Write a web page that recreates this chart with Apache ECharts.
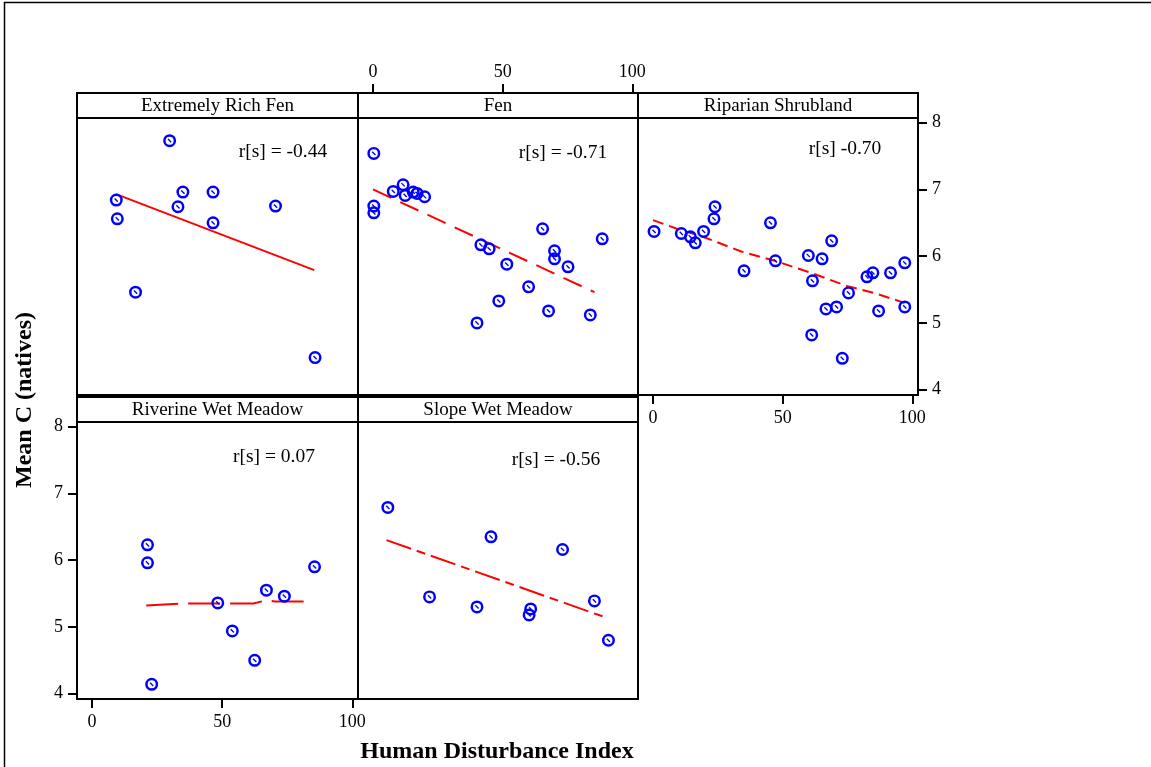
<!DOCTYPE html>
<html>
<head>
<meta charset="utf-8">
<script src="https://cdn.jsdelivr.net/npm/echarts@6/dist/echarts.min.js"></script>
<style>html,body{margin:0;padding:0;background:#fff;}#c{width:1151px;height:767px;}</style>
</head>
<body>
<div id="c"></div>
<script>
// ---- data ----
const xTicks = [0, 50, 100];
const yTicks = [4, 5, 6, 7, 8];
const panelNames = ['Extremely Rich Fen', 'Fen', 'Riparian Shrubland', 'Riverine Wet Meadow', 'Slope Wet Meadow'];
const corrLabels = ['r[s] = -0.44', 'r[s] = -0.71', 'r[s] -0.70', 'r[s] = 0.07', 'r[s] = -0.56'];
const xTitle = 'Human Disturbance Index';
const yTitle = 'Mean C (natives)';

const extremelyRichFenPts = [[29.8,7.73],[9.3,6.84],[9.7,6.56],[16.7,5.46],[33.0,6.74],[34.9,6.96],[46.5,6.96],[46.5,6.50],[70.5,6.75],[85.7,4.48]];
const extremelyRichFenFit = [[9.2,6.93],[85.4,5.79]];
const fenPts = [[0.3,7.54],[0.3,6.75],[0.3,6.65],[7.8,6.97],[11.6,7.07],[12.4,6.91],[15.5,6.96],[17.0,6.94],[19.9,6.89],[65.4,6.41],[88.4,6.26],[41.6,6.17],[44.8,6.11],[51.6,5.88],[70.0,6.08],[70.0,5.96],[75.2,5.84],[60.0,5.54],[48.5,5.33],[67.7,5.18],[83.8,5.12],[40.1,5.00]];
const fenFit = [[0,7.0],[85.4,5.46]];
const riparianPts = [[0.4,6.37],[10.9,6.34],[14.4,6.29],[16.3,6.20],[19.5,6.37],[23.5,6.56],[23.9,6.74],[45.3,6.50],[35.1,5.78],[47.2,5.93],[59.9,6.01],[65.2,5.96],[68.9,6.23],[61.5,5.63],[75.4,5.45],[82.5,5.69],[84.8,5.75],[91.6,5.75],[97.1,5.90],[66.7,5.21],[70.8,5.24],[87.0,5.18],[97.1,5.24],[61.2,4.82],[73.0,4.47]];
const riparianFit = [[0,6.54],[10,6.40],[20,6.28],[34,6.07],[47,5.93],[61,5.75],[75,5.55],[86,5.44],[97,5.30]];
const riverinePts = [[21.3,6.23],[21.3,5.96],[85.5,5.90],[67.0,5.55],[73.9,5.46],[48.3,5.36],[53.9,4.94],[62.5,4.50],[22.9,4.14]];
const riverineFit = [[20.8,5.32],[34.8,5.35],[48.3,5.35],[62.0,5.35],[67.0,5.40],[70.3,5.38],[84.5,5.38]];
const slopePts = [[5.7,6.79],[45.5,6.35],[73.1,6.16],[21.8,5.45],[40.1,5.30],[60.8,5.27],[60.2,5.18],[85.4,5.39],[90.8,4.80]];
const slopeFit = [[5.2,6.30],[90.6,5.13]];

// ---- layout / style ----
const FONT = '"Liberation Serif", "Times New Roman", serif';
const panels = [
  {pts: extremelyRichFenPts, fit: extremelyRichFenFit, dash: 'solid', left: 77, top: 118, width: 281, height: 277, cx: 283, cy: 152},
  {pts: fenPts, fit: fenFit, dash: [20, 10], left: 358, top: 118, width: 280, height: 277, cx: 563, cy: 153},
  {pts: riparianPts, fit: riparianFit, dash: [11, 6], left: 638, top: 118, width: 280, height: 277, cx: 845, cy: 149},
  {pts: riverinePts, fit: riverineFit, dash: [32, 10], left: 77, top: 422, width: 281, height: 277, cx: 274, cy: 457},
  {pts: slopePts, fit: slopeFit, dash: [26, 6, 9, 6], left: 358, top: 422, width: 280, height: 277, cx: 556, cy: 460}
];
const STRIP = 25;
const XMIN = -5.8, XMAX = 102.2, YMIN = 3.92, YMAX = 8.07;

const markerPath = 'path://M0,12 A12,12 0 1,1 24,12 A12,12 0 1,1 0,12 Z M4.6,12 A7.4,7.4 0 1,0 19.4,12 A7.4,7.4 0 1,0 4.6,12 Z M8.1,9.9 L14.1,15.9 L15.9,14.1 L9.9,8.1 Z';

const labelStyle = {fontFamily: FONT, fontSize: 18, color: '#000'};
function xAxisFor(i) {
  const base = {gridIndex: i, type: 'value', min: XMIN, max: XMAX, splitLine: {show: false}};
  const vis = {
    show: true,
    axisLine: {show: true, onZero: false, lineStyle: {color: '#000', width: 2}},
    axisTick: {show: true, inside: false, length: 9, lineStyle: {color: '#000', width: 2}, customValues: xTicks},
    axisLabel: Object.assign({show: true, margin: 14, customValues: xTicks}, labelStyle)
  };
  if (i === 1) return Object.assign(base, vis, {position: 'top', offset: STRIP, axisLabel: Object.assign({}, vis.axisLabel, {margin: 12})});
  if (i === 2 || i === 3) return Object.assign(base, vis, {position: 'bottom'});
  return Object.assign(base, {show: false});
}
function yAxisFor(i) {
  const base = {gridIndex: i, type: 'value', min: YMIN, max: YMAX, splitLine: {show: false}};
  const vis = {
    show: true,
    axisLine: {show: true, onZero: false, lineStyle: {color: '#000', width: 2}},
    axisTick: {show: true, inside: false, length: 9, lineStyle: {color: '#000', width: 2}, customValues: yTicks},
    axisLabel: Object.assign({show: true, margin: 14, customValues: yTicks}, labelStyle)
  };
  if (i === 2) return Object.assign(base, vis, {position: 'right'});
  if (i === 3) return Object.assign(base, vis, {position: 'left'});
  return Object.assign(base, {show: false});
}

const grids = panels.map(p => ({left: p.left, top: p.top, width: p.width, height: p.height, show: true, borderColor: '#000', borderWidth: 2, backgroundColor: 'transparent'}));
const series = [];
panels.forEach((p, i) => {
  series.push({
    type: 'line', xAxisIndex: i, yAxisIndex: i, data: p.fit, showSymbol: false, symbol: 'none',
    lineStyle: {color: '#ff0000', width: 2, type: p.dash}, silent: true, z: 2, animation: false
  });
  series.push({
    type: 'scatter', xAxisIndex: i, yAxisIndex: i, data: p.pts, symbol: markerPath, symbolSize: 13,
    itemStyle: {color: '#0000ff', opacity: 1}, z: 3, animation: false
  });
});

const graphics = [
  {type: 'rect', shape: {x: 4.5, y: 2.5, width: 1200, height: 800}, style: {fill: 'none', stroke: '#000', lineWidth: 1.5}, silent: true}
];
panels.forEach((p, i) => {
  graphics.push({type: 'rect', shape: {x: p.left, y: p.top - STRIP, width: p.width, height: STRIP}, style: {fill: '#fff', stroke: '#000', lineWidth: 2}, silent: true, z: 5});
  graphics.push({type: 'text', x: p.left + p.width / 2, y: p.top - STRIP / 2 + 1, style: {text: panelNames[i], font: '19px ' + FONT, fill: '#000', align: 'center', verticalAlign: 'middle'}, silent: true, z: 6});
  graphics.push({type: 'text', x: p.cx, y: p.cy, style: {text: corrLabels[i], font: '19.5px ' + FONT, fill: '#000', align: 'center', verticalAlign: 'middle'}, silent: true, z: 6});
});
graphics.push({type: 'text', x: 497, y: 752, style: {text: xTitle, font: 'bold 24px ' + FONT, fill: '#000', align: 'center', verticalAlign: 'middle'}, silent: true});
graphics.push({type: 'text', x: 25, y: 400, rotation: Math.PI / 2, style: {text: yTitle, font: 'bold 24px ' + FONT, fill: '#000', align: 'center', verticalAlign: 'middle'}, silent: true});

const chart = echarts.init(document.getElementById('c'), null, {renderer: 'canvas'});
chart.setOption({
  backgroundColor: '#fff',
  animation: false,
  grid: grids,
  xAxis: panels.map((p, i) => xAxisFor(i)),
  yAxis: panels.map((p, i) => yAxisFor(i)),
  series: series,
  graphic: graphics
});
</script>
</body>
</html>
